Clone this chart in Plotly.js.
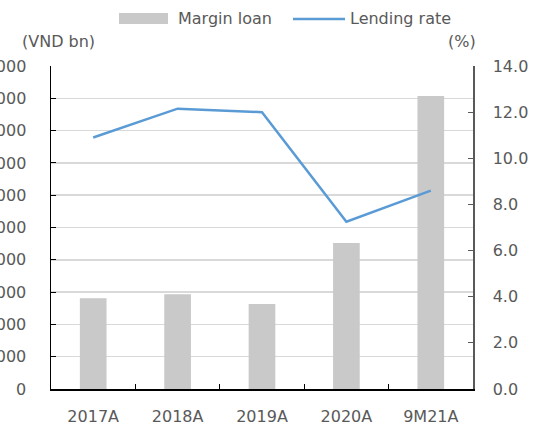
<!DOCTYPE html>
<html>
<head>
<meta charset="utf-8">
<script src="https://cdn.plot.ly/plotly-3.0.1.min.js"></script>
<style>html,body{margin:0;padding:0;background:#fff;}#chart{width:538px;height:425px;}</style>
</head>
<body>
<div id="chart"></div>
<script>
const categories = ["2017A", "2018A", "2019A", "2020A", "9M21A"];
const marginLoan = [5620, 5860, 5260, 9040, 18140];   // VND bn
const lendingRate = [10.9, 12.15, 12.0, 7.25, 8.6];    // %
const leftTicks = [0, 2000, 4000, 6000, 8000, 10000, 12000, 14000, 16000, 18000, 20000];
const rightTicks = [0, 2, 4, 6, 8, 10, 12, 14];

const W = 538, H = 425, ML = 51, MR = 65, MT = 66, MB = 36;
const PW = W - ML - MR, PH = H - MT - MB;
const px = x => (x - ML) / PW;
const py = y => (H - MB - y) / PH;

const font = {family: "DejaVu Sans, Verdana, sans-serif", size: 16, color: "#595959"};

const traces = [
  {type: "bar", x: categories, y: marginLoan, name: "Margin loan",
   marker: {color: "#C9C9C9"}, yaxis: "y", hoverinfo: "skip"},
  {type: "scatter", mode: "lines", x: categories, y: lendingRate, name: "Lending rate",
   line: {color: "#5B9BD5", width: 2.5}, yaxis: "y2", hoverinfo: "skip"}
];

const layout = {
  width: W, height: H,
  margin: {l: ML, r: MR, t: MT, b: MB, pad: 0},
  paper_bgcolor: "#fff", plot_bgcolor: "#fff",
  font: font,
  showlegend: false,
  bargap: 0.684,
  xaxis: {
    type: "category", tickson: "boundaries", ticks: "inside", ticklen: 5,
    tickcolor: "#000", tickwidth: 1, showline: true, linecolor: "#000", linewidth: 1.5,
    showgrid: false, tickfont: font, ticklabelstandoff: 12, automargin: false
  },
  yaxis: {
    range: [0, 20000], tickvals: leftTicks, tickformat: ",", ticks: "inside", ticklen: 5,
    tickcolor: "#000", showline: true, linecolor: "#000", linewidth: 1.5,
    showgrid: true, gridcolor: "#D9D9D9", gridwidth: 1.5, zeroline: false,
    tickfont: font, ticklabelstandoff: 20, automargin: false, fixedrange: true
  },
  yaxis2: {
    overlaying: "y", side: "right", range: [0, 14], tickvals: rightTicks, tickformat: ".1f",
    ticks: "inside", ticklen: 5, tickcolor: "#595959", showline: true, linecolor: "#595959",
    linewidth: 1.5, showgrid: false, zeroline: false, tickfont: font,
    ticklabelstandoff: 15, automargin: false
  },
  shapes: [
    {type: "rect", xref: "paper", yref: "paper", x0: px(119), x1: px(168), y0: py(24), y1: py(13),
     fillcolor: "#C9C9C9", line: {width: 0}},
    {type: "line", xref: "paper", yref: "paper", x0: px(293), x1: px(345), y0: py(19), y1: py(19),
     line: {color: "#5B9BD5", width: 2.5}}
  ],
  annotations: [
    {xref: "paper", yref: "paper", x: px(176), y: py(18), xanchor: "left", yanchor: "middle",
     text: "Margin loan", showarrow: false, font: font},
    {xref: "paper", yref: "paper", x: px(348), y: py(18), xanchor: "left", yanchor: "middle",
     text: "Lending rate", showarrow: false, font: font},
    {xref: "paper", yref: "paper", x: px(20), y: py(41), xanchor: "left", yanchor: "middle",
     text: "(VND bn)", showarrow: false, font: font},
    {xref: "paper", yref: "paper", x: px(478), y: py(41), xanchor: "right", yanchor: "middle",
     text: "(%)", showarrow: false, font: font}
  ]
};

Plotly.newPlot("chart", traces, layout, {displayModeBar: false, staticPlot: true});
</script>
</body>
</html>
